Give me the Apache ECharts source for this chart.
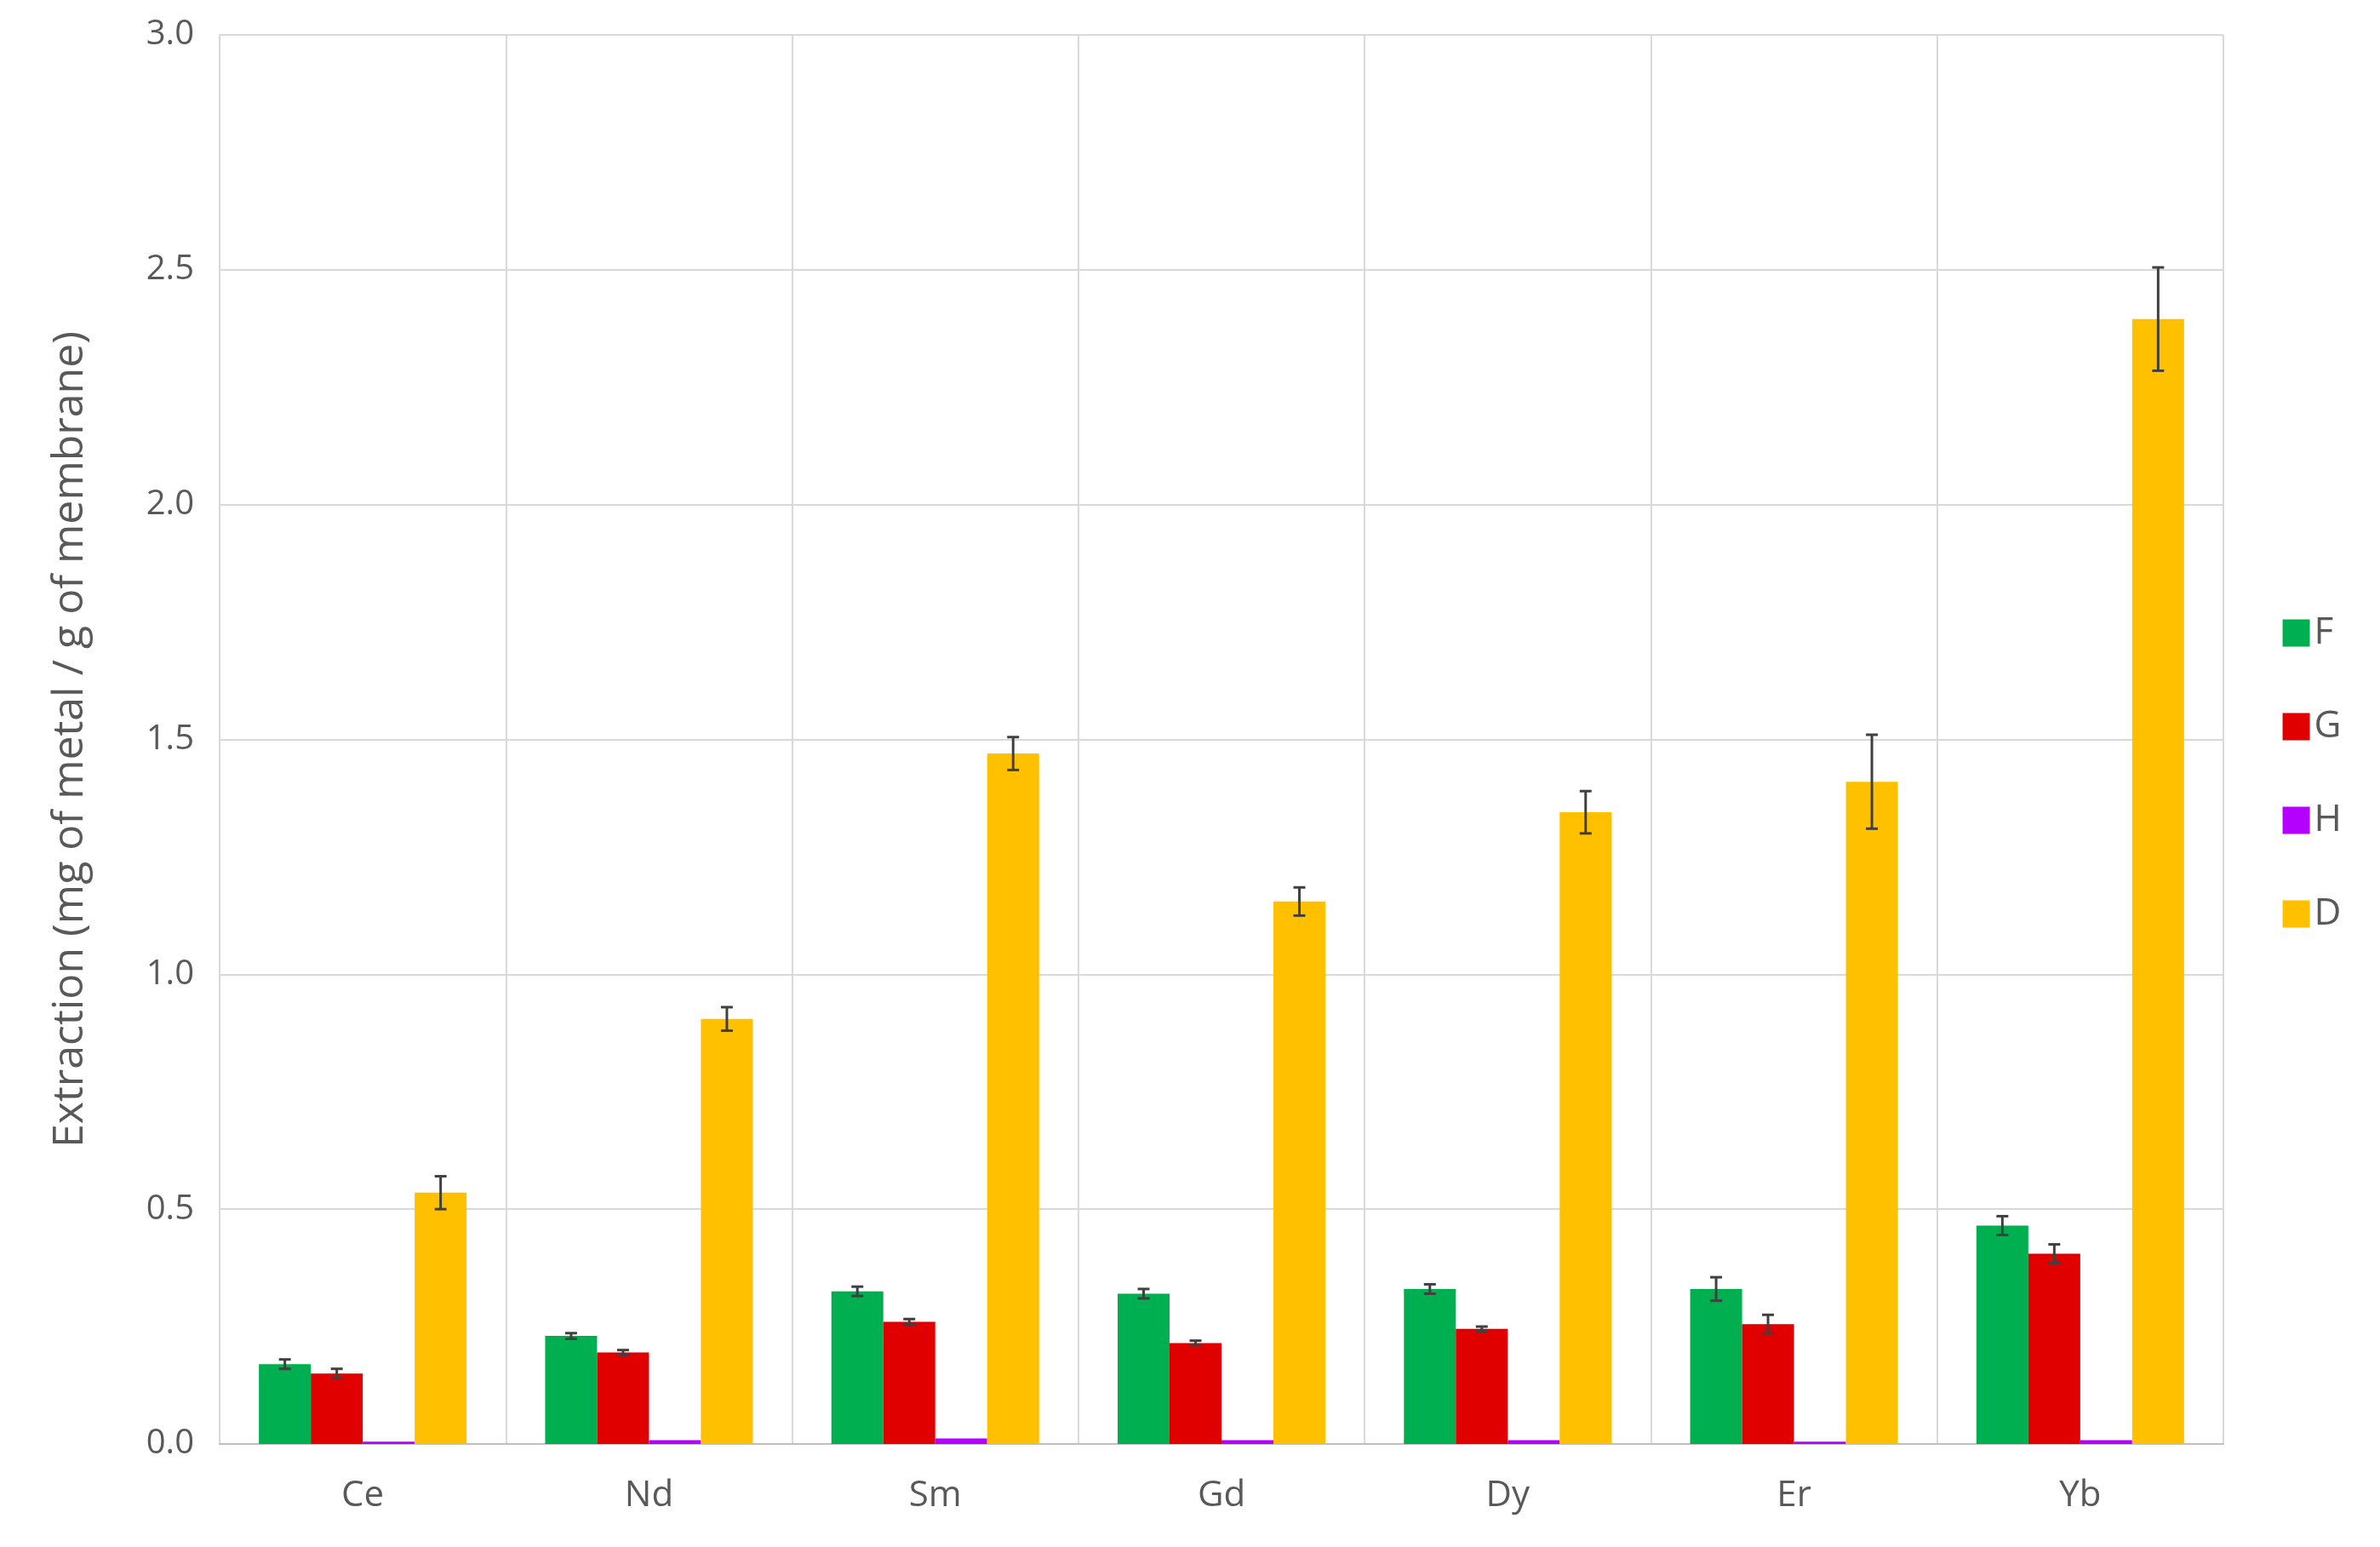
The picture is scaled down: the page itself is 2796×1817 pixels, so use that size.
<!DOCTYPE html>
<html><head><meta charset="utf-8">
<script src="https://cdn.jsdelivr.net/npm/echarts@6/dist/echarts.min.js"></script>
<style>html,body{margin:0;padding:0;background:#fff}#c{width:2796px;height:1817px}</style>
</head><body><div id="c"></div>
<script>
const categories = ['Ce','Nd','Sm','Gd','Dy','Er','Yb'];
const seriesNames = ['F','G','H','D'];
const colors = ['#00b050','#e00000','#b400ff','#ffc000'];
const valF = [0.17,0.23,0.325,0.32,0.33,0.33,0.465];
const valG = [0.15,0.195,0.26,0.215,0.245,0.255,0.405];
const valH = [0.005,0.008,0.012,0.008,0.008,0.005,0.008];
const valD = [0.535,0.905,1.47,1.155,1.345,1.41,2.395];
const errF = [0.01,0.006,0.01,0.01,0.01,0.025,0.02];
const errG = [0.01,0.005,0.006,0.005,0.005,0.02,0.02];
const errH = [0,0,0,0,0,0,0];
const errD = [0.035,0.025,0.035,0.03,0.045,0.1,0.11];
const vals = [valF,valG,valH,valD];
const errs = [errF,errG,errH,errD];
const BW = 61;
const txt = '#595959';
const series = [];
vals.forEach((v,i)=>{
  series.push({name:seriesNames[i],type:'bar',data:v,barWidth:BW,barGap:'0%',itemStyle:{color:colors[i]}});
});
vals.forEach((v,i)=>{
  if(i===2) return;
  series.push({type:'custom',silent:true,z:10,
    data:v.map((y,j)=>[j,y-errs[i][j],y+errs[i][j]]),
    renderItem:(params,api)=>{
      const lo=api.coord([api.value(0),api.value(1)]);
      const hi=api.coord([api.value(0),api.value(2)]);
      const x=lo[0]+(i-1.5)*BW;
      const s={stroke:'#404040',lineWidth:3};
      return {type:'group',children:[
        {type:'line',shape:{x1:x,y1:lo[1],x2:x,y2:hi[1]},style:s},
        {type:'line',shape:{x1:x-7,y1:lo[1],x2:x+7,y2:lo[1]},style:s},
        {type:'line',shape:{x1:x-7,y1:hi[1],x2:x+7,y2:hi[1]},style:s}]};
    }});
});
const chart = echarts.init(document.getElementById('c'));
chart.setOption({
  animation:false,
  grid:{left:258,right:184,top:41,bottom:121},
  legend:{orient:'vertical',right:40,top:'middle',data:seriesNames,itemWidth:32,itemHeight:32,itemGap:66,
    icon:'rect',textStyle:{fontSize:44,color:txt,fontFamily:'Open Sans'}},
  xAxis:{type:'category',data:categories,
    axisLine:{lineStyle:{color:'#bfbfbf',width:2}},axisTick:{show:false},
    splitLine:{show:true,lineStyle:{color:'#d9d9d9',width:2}},
    axisLabel:{fontSize:42,color:txt,margin:40,fontFamily:'Open Sans'}},
  yAxis:{type:'value',min:0,max:3,interval:0.5,
    name:'Extraction (mg of metal / g of membrane)',nameLocation:'middle',nameGap:150,
    nameTextStyle:{fontSize:50,color:txt,fontFamily:'Open Sans'},
    axisLine:{show:true,lineStyle:{color:'#d9d9d9',width:2}},
    splitLine:{lineStyle:{color:'#d9d9d9',width:2}},
    axisLabel:{fontSize:40,color:txt,margin:30,fontFamily:'Open Sans',formatter:v=>v.toFixed(1)}},
  series
});
</script></body></html>
